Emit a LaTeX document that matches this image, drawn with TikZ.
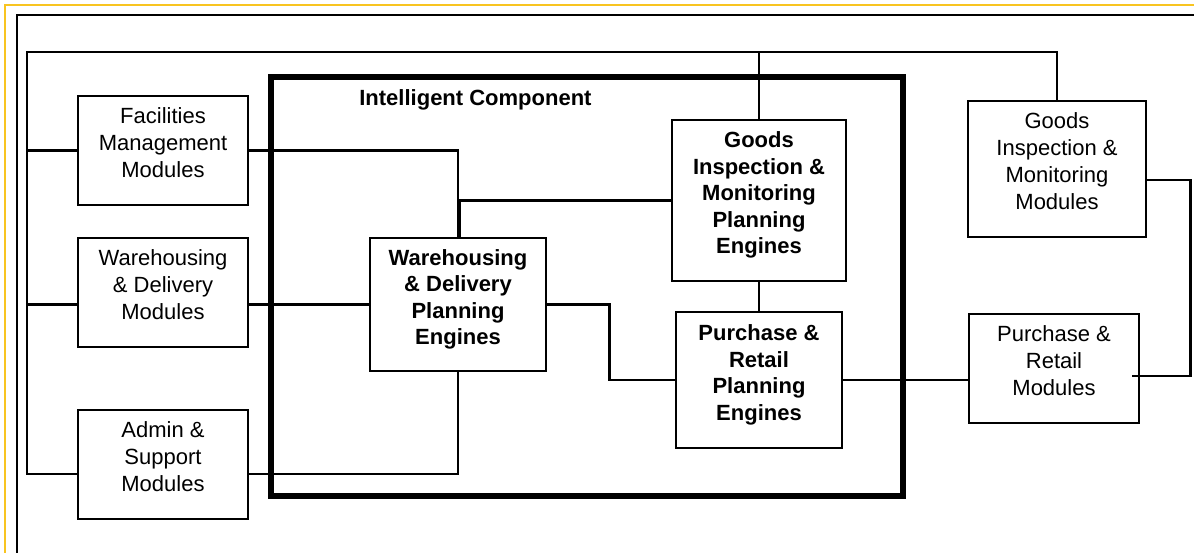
\documentclass[tikz,border=0pt]{standalone}
\usepackage{fontspec}
\setmainfont{Liberation Sans}
\usetikzlibrary{positioning}
\definecolor{frameyellow}{RGB}{248,196,32}

\begin{document}
\begin{tikzpicture}
              [x=1pt,y=-1pt,
                every node/.style={rectangle,draw,line width=2.7pt,align=center,inner sep=0pt,
                  font=\fontsize{22}{27}\selectfont,text depth=15pt},
                module/.style={minimum width=170pt,minimum height=109pt},
                engine/.style={font=\fontsize{22}{26.5}\selectfont\bfseries},
                wire/.style={line width=2.7pt},
                title/.style={draw=none,font=\fontsize{22}{27}\selectfont\bfseries,text depth=0pt}]
              \useasboundingbox (0,0) rectangle (1194,552);
              \begin{scope}
                \clip (0,0) rectangle (1194,552);
                \draw[frameyellow,line width=2pt] (5,5) rectangle (1300,700);
                \draw[line width=1.5pt] (17,15) rectangle (1300,700);
              \end{scope}
              \node[line width=6pt,minimum width=631.5pt,minimum height=419pt] (ic) at (586.75,286.5) {};
              \node[title,anchor=base west] (ictitle) at (358,105) {Intelligent Component};
              \node[module] (fm) at (163,150.5) {Facilities\\Management\\Modules};
              \node[module] (wm) at (163,292.5) {Warehousing\\\& Delivery\\Modules};
              \node[module] (am) at (163,464.5) {Admin \&\\Support\\Modules};
              \node[engine,minimum width=176pt,minimum height=133pt] (wde) at (458,304.5) {Warehousing\\\& Delivery\\Planning\\Engines};
              \node[engine,minimum width=174pt,minimum height=161pt] (gie) at (759,200.5) {Goods\\Inspection \&\\Monitoring\\Planning\\Engines};
              \node[engine,minimum width=166pt,minimum height=136pt] (pre) at (759,380) {Purchase \&\\Retail\\Planning\\Engines};
              \node[minimum width=178pt,minimum height=136pt] (gim) at (1057,169) {Goods\\Inspection \&\\Monitoring\\Modules};
              \node[module] (prm) at (1054,368.5) {Purchase \&\\Retail\\Modules};
              \coordinate (bus) at (27,52);
              \draw[wire] ([yshift=-9.5pt]am.west) -| (bus) -| (gim.north);
              \foreach \from/\to in {fm.west/fm.west -| bus,wde.west -| bus/wde.west -| wm.west,
                wde.west -| wm.east/wde.west,gie.north/gie.north |- bus,gie.south/pre.north,
                pre.east/pre.east -| prm.west}
              \draw[wire] (\from) -- (\to);
              \draw[wire] (fm.east) -| (wde.north);
              \draw[wire] (gie.west) -| ([xshift=1.5pt]wde.north);
              \draw[wire] ([yshift=-9.5pt]am.east) -| (wde.south);
              \draw[wire] (wde.east) -- ++(62,0) |- (pre.west);
              \draw[wire] ([yshift=-11pt]gim.east) -- ++(43,0) |- ([shift={(-8pt,-7.5pt)}]prm.east);
            \end{tikzpicture}
\end{document}
